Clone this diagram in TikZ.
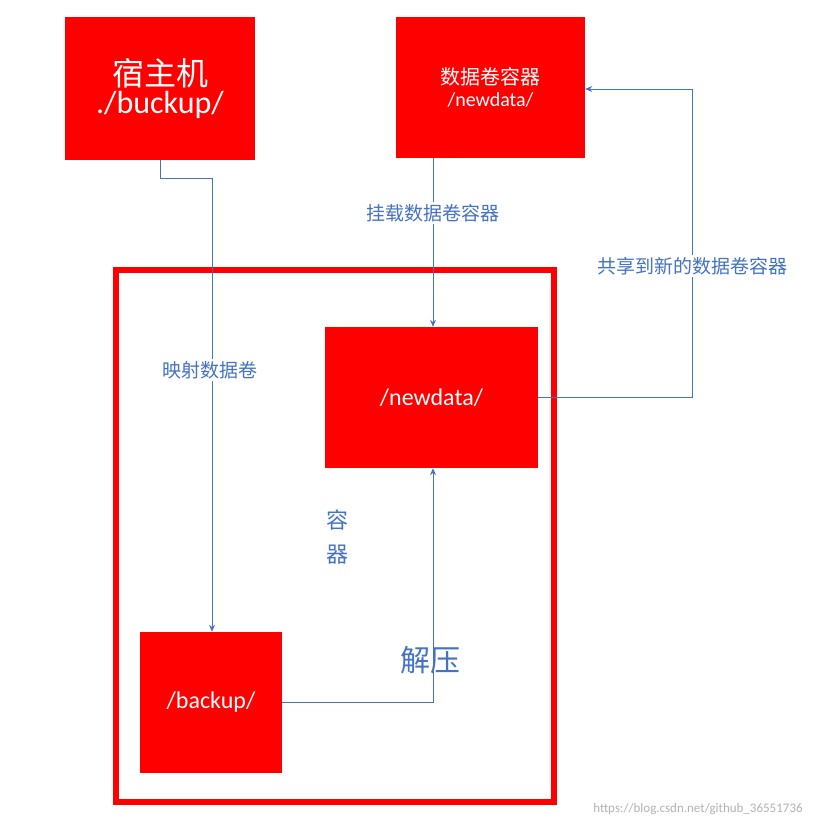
\documentclass[tikz,border=0pt]{standalone}
\usepackage{fontspec}
\setmainfont{Carlito}
\newfontfamily\cjk{Noto Sans CJK SC}
\usetikzlibrary{arrows.meta}
\definecolor{bred}{HTML}{FF0000}
\definecolor{lblue}{HTML}{4472C4}
\begin{document}
\begin{tikzpicture}[x=1pt,y=-1pt,
  rbox/.style={fill=bred,draw=none,text=white,align=center,inner sep=0},
  conn/.style={draw=lblue,line width=1pt,-{Stealth[length=7pt,width=6pt]}},
  lbl/.style={fill=white,text=lblue,inner sep=2pt,font=\cjk\fontsize{19}{22}\selectfont}]
\useasboundingbox (0,0) rectangle (837,828);
\fill[white] (0,0) rectangle (837,828);
\node[draw=bred,line width=6pt,minimum width=438pt,minimum height=532pt,inner sep=0] (cont) at (335,536) {};
\node[rbox,minimum width=190pt,minimum height=143pt] (host) at (160,88.5) {\cjk\fontsize{32}{38}\selectfont 宿主机\\[2pt]\fontsize{32}{38}\selectfont ./buckup/};
\node[rbox,minimum width=189pt,minimum height=141pt] (vol) at (490.5,87.5) {\cjk\fontsize{20}{24}\selectfont 数据卷容器\\[6pt]\fontsize{20}{24}\selectfont /newdata/};
\node[rbox,minimum width=213pt,minimum height=141pt] (nd) at (431.5,397.5) {\fontsize{24}{28}\selectfont /newdata/};
\node[rbox,minimum width=142pt,minimum height=141pt] (bk) at (211,702.5) {\fontsize{24}{28}\selectfont /backup/};
\coordinate (c1) at (160,178);
\coordinate (c2) at (212,178);
\draw[conn] (host.south -| c1) -- (c1) -- (c2) -- (bk.north -| c2);
\node[lbl] at (210,370) {映射数据卷};
\draw[conn] (vol.south -| 433,0) -- (nd.north -| 433,0);
\node[lbl] at (433,213) {挂载数据卷容器};
\coordinate (r1) at (692,397);
\coordinate (r2) at (692,89);
\draw[conn] (nd.east |- r1) -- (r1) -- (r2) -- (vol.east |- r2);
\node[lbl] at (692,266) {共享到新的数据卷容器};
\coordinate (d1) at (433,702);
\draw[conn] (bk.east |- d1) -- (d1) -- (nd.south -| d1);
\node[lbl,fill=none,font=\cjk\fontsize{30}{34}\selectfont] at (430,660) {解压};
\node[text=lblue,font=\cjk\fontsize{22}{34}\selectfont,align=center] at (337,537) {容\\器};
\node[text=gray!60,font=\fontsize{13}{15}\selectfont] at (698,809) {https://blog.csdn.net/github\_36551736};
\end{tikzpicture}
\end{document}
